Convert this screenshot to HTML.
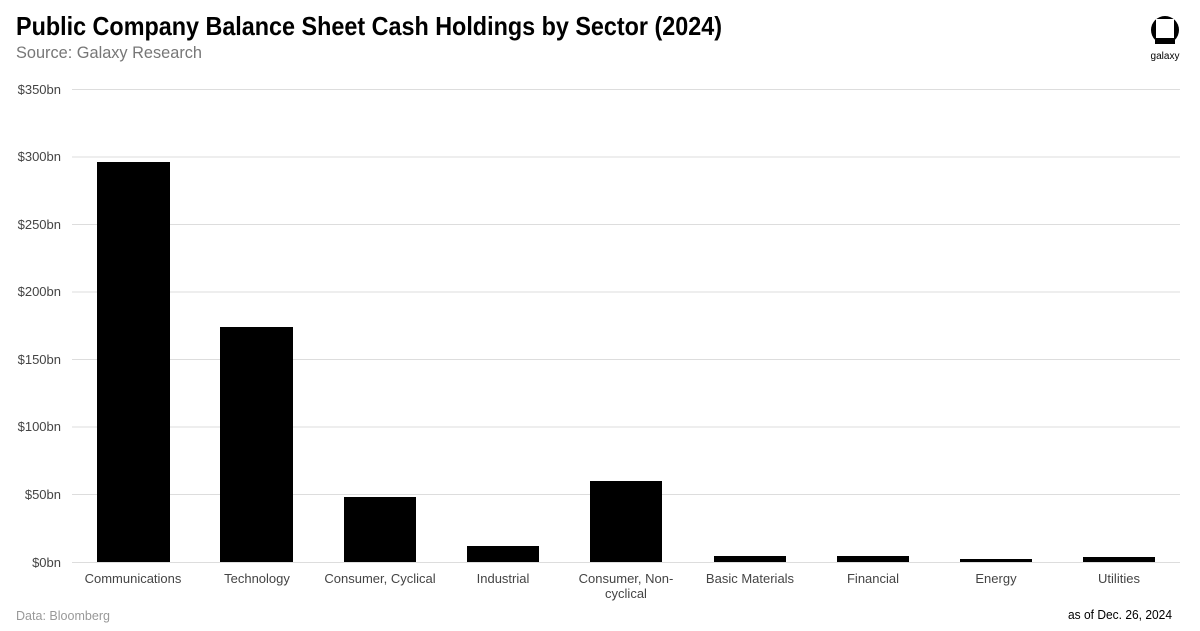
<!DOCTYPE html>
<html><head><meta charset="utf-8"><style>
body{margin:0;background:#fff}
svg{display:block;font-family:"Liberation Sans",sans-serif}
</style></head><body>
<svg width="1200" height="631" viewBox="0 0 1200 631" xmlns="http://www.w3.org/2000/svg">
<rect width="1200" height="631" fill="#fff"/>
<text x="16" y="35" font-size="26" font-weight="bold" fill="#000" textLength="706" lengthAdjust="spacingAndGlyphs">Public Company Balance Sheet Cash Holdings by Sector (2024)</text>
<text x="16" y="58" font-size="17" fill="#777" textLength="186" lengthAdjust="spacingAndGlyphs">Source: Galaxy Research</text>
<!-- logo -->
<circle cx="1165" cy="30" r="14" fill="#000"/>
<rect x="1156" y="19" width="18" height="19" fill="#fff"/>
<rect x="1155" y="40" width="20" height="4" fill="#000"/>
<text x="1165" y="59" font-size="10" text-anchor="middle" fill="#000">galaxy</text>
<g stroke="#ddd" stroke-width="1">
<line x1="72" x2="1180" y1="89.5" y2="89.5"/>
<line x1="72" x2="1180" y1="157" y2="157"/>
<line x1="72" x2="1180" y1="224.5" y2="224.5"/>
<line x1="72" x2="1180" y1="292" y2="292"/>
<line x1="72" x2="1180" y1="359.5" y2="359.5"/>
<line x1="72" x2="1180" y1="427" y2="427"/>
<line x1="72" x2="1180" y1="494.5" y2="494.5"/>
<line x1="72" x2="1180" y1="562.5" y2="562.5"/>
</g>
<g font-size="13" fill="#444" text-anchor="end">
<text x="61" y="94">$350bn</text>
<text x="61" y="161">$300bn</text>
<text x="61" y="229">$250bn</text>
<text x="61" y="296">$200bn</text>
<text x="61" y="364">$150bn</text>
<text x="61" y="431">$100bn</text>
<text x="61" y="499">$50bn</text>
<text x="61" y="567">$0bn</text>
</g>
<g fill="#000">
<rect x="97" y="162" width="73" height="400"/>
<rect x="220" y="327" width="73" height="235"/>
<rect x="344" y="497" width="72" height="65"/>
<rect x="467" y="546" width="72" height="16"/>
<rect x="590" y="481" width="72" height="81"/>
<rect x="714" y="556" width="72" height="6"/>
<rect x="837" y="556" width="72" height="6"/>
<rect x="960" y="559" width="72" height="3"/>
<rect x="1083" y="557" width="72" height="5"/>
</g>
<g font-size="13" fill="#444" text-anchor="middle">
<text x="133" y="583">Communications</text>
<text x="257" y="583">Technology</text>
<text x="380" y="583">Consumer, Cyclical</text>
<text x="503" y="583">Industrial</text>
<text x="626" y="583">Consumer, Non-</text>
<text x="626" y="598">cyclical</text>
<text x="750" y="583">Basic Materials</text>
<text x="873" y="583">Financial</text>
<text x="996" y="583">Energy</text>
<text x="1119" y="583">Utilities</text>
</g>
<text x="16" y="620" font-size="13" fill="#999" textLength="94" lengthAdjust="spacingAndGlyphs">Data: Bloomberg</text>
<text x="1172" y="619" font-size="13" fill="#000" text-anchor="end" textLength="104" lengthAdjust="spacingAndGlyphs">as of Dec. 26, 2024</text>
</svg>
</body></html>
